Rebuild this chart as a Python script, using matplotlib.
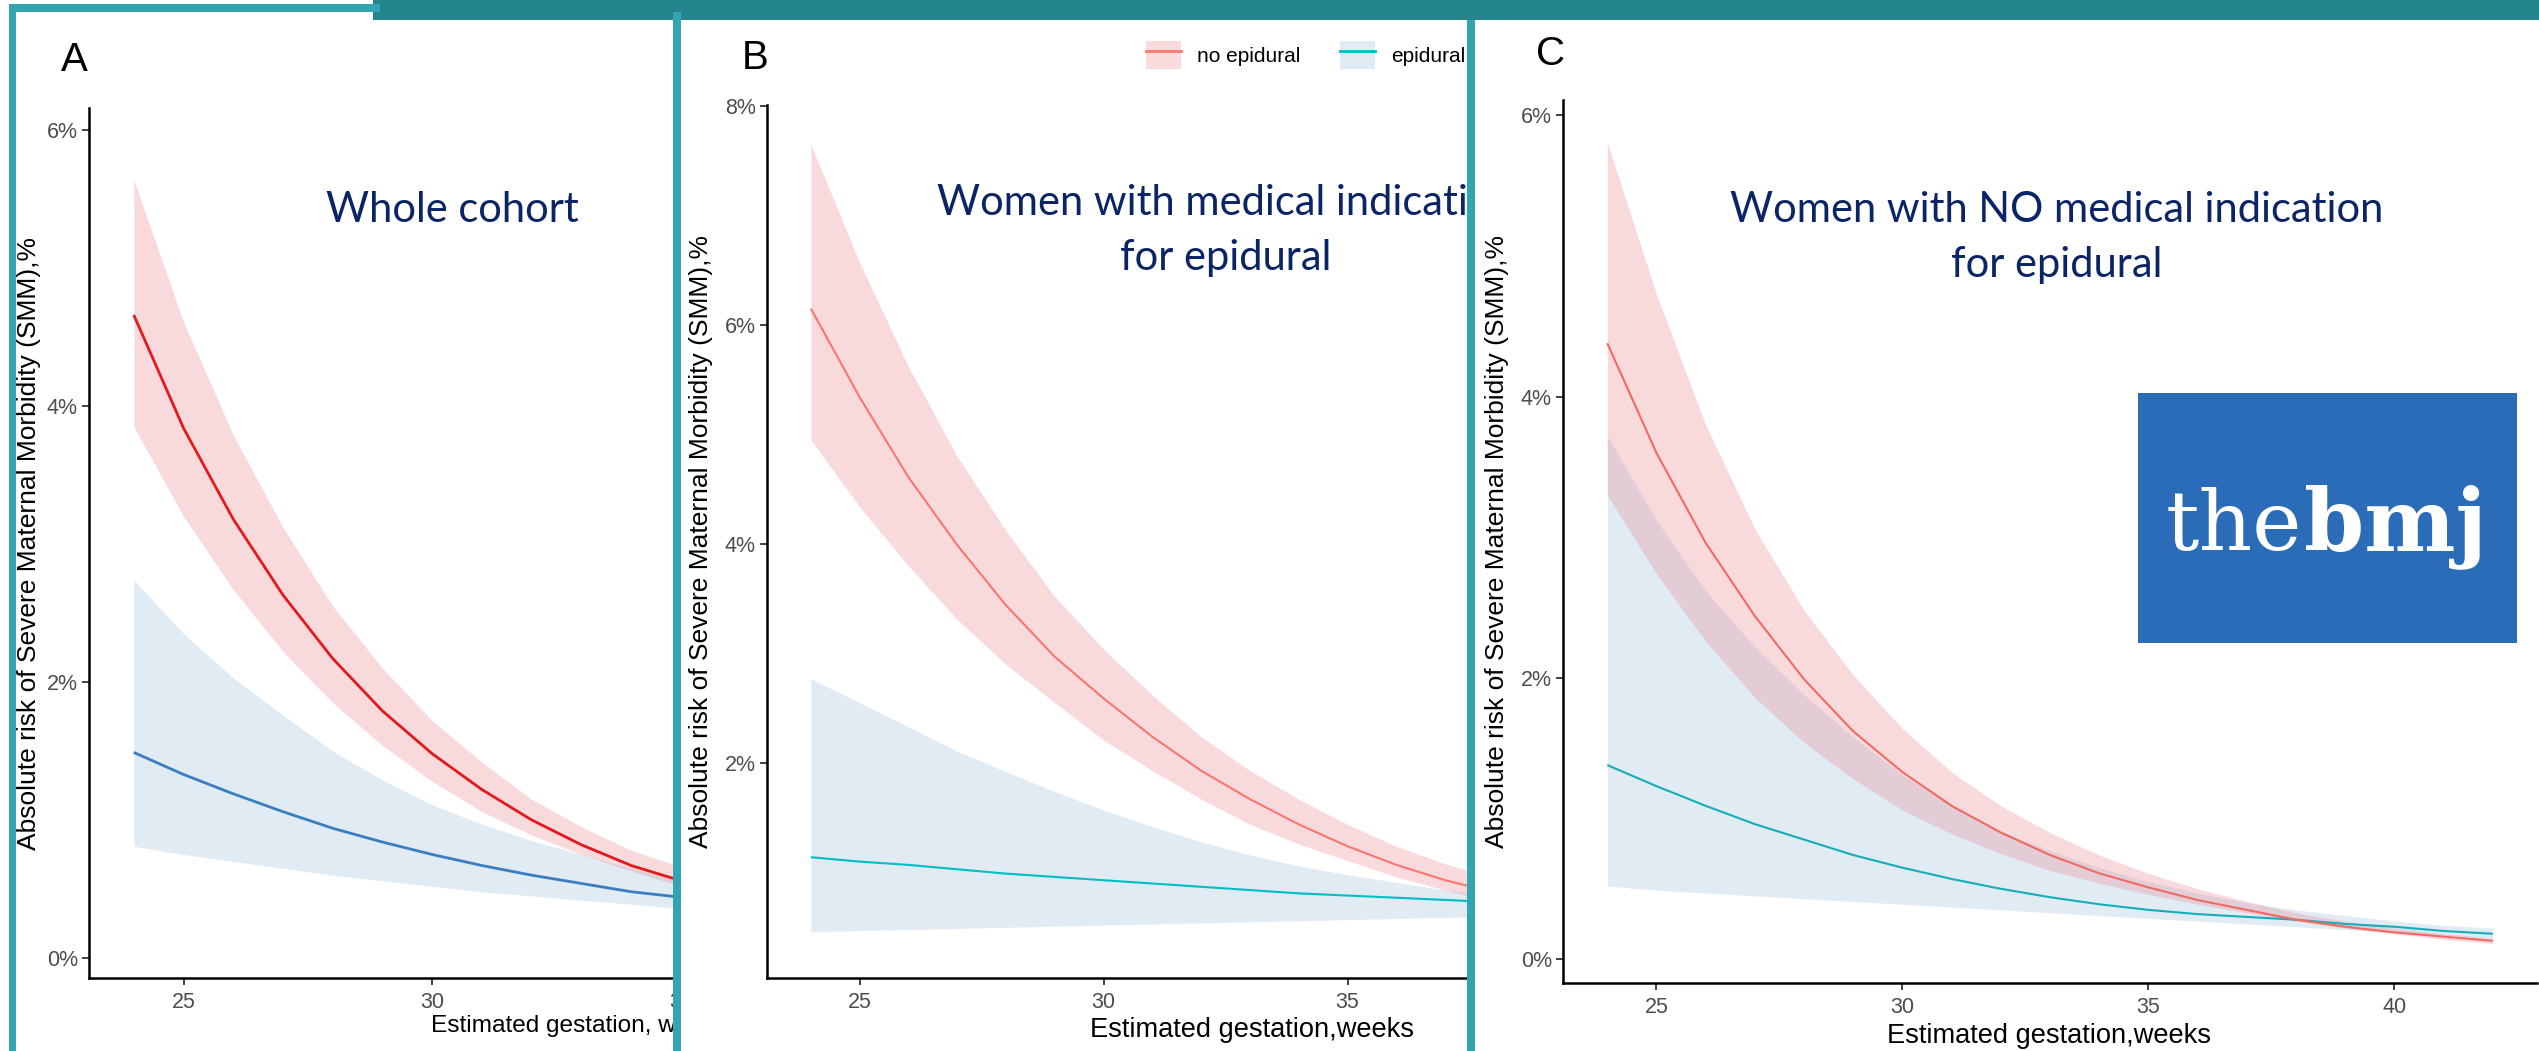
import matplotlib
matplotlib.use("Agg")
import matplotlib.pyplot as plt
from matplotlib.patches import Rectangle, Patch
from matplotlib.lines import Line2D
from matplotlib.legend_handler import HandlerTuple
from matplotlib.ticker import FixedLocator, FuncFormatter

# ---------------- data (absolute risk of SMM, %) ----------------
weeks_A = [24, 25, 26, 27, 28, 29, 30, 31, 32, 33, 34, 35]
A_no_fit = [4.66, 3.84, 3.18, 2.63, 2.17, 1.79, 1.48, 1.22, 1.00, 0.82, 0.67, 0.56]
A_no_lo = [3.85, 3.20, 2.67, 2.22, 1.85, 1.54, 1.28, 1.06, 0.89, 0.75, 0.63, 0.52]
A_no_hi = [5.64, 4.61, 3.79, 3.12, 2.55, 2.10, 1.72, 1.42, 1.15, 0.95, 0.78, 0.66]
A_ep_fit = [1.49, 1.33, 1.19, 1.06, 0.94, 0.84, 0.75, 0.67, 0.60, 0.54, 0.48, 0.44]
A_ep_lo = [0.81, 0.75, 0.70, 0.65, 0.60, 0.56, 0.52, 0.48, 0.45, 0.42, 0.39, 0.36]
A_ep_hi = [2.74, 2.35, 2.03, 1.76, 1.50, 1.29, 1.11, 0.97, 0.85, 0.75, 0.65, 0.57]

weeks_B = [24, 25, 26, 27, 28, 29, 30, 31, 32, 33, 34, 35, 36, 37, 38]
B_no_fit = [6.15, 5.34, 4.61, 3.99, 3.44, 2.97, 2.59, 2.24, 1.93, 1.67, 1.44, 1.24, 1.07, 0.93, 0.82]
B_no_lo = [4.95, 4.34, 3.80, 3.31, 2.90, 2.55, 2.21, 1.93, 1.67, 1.44, 1.26, 1.11, 0.96, 0.84, 0.73]
B_no_hi = [7.65, 6.57, 5.62, 4.80, 4.12, 3.52, 3.04, 2.62, 2.24, 1.93, 1.67, 1.44, 1.24, 1.08, 0.95]
B_ep_fit = [1.14, 1.10, 1.07, 1.03, 0.99, 0.96, 0.93, 0.90, 0.87, 0.84, 0.81, 0.79, 0.77, 0.75, 0.73]
B_ep_lo = [0.46, 0.47, 0.48, 0.49, 0.50, 0.51, 0.52, 0.53, 0.54, 0.55, 0.56, 0.57, 0.58, 0.59, 0.60]
B_ep_hi = [2.77, 2.55, 2.33, 2.11, 1.92, 1.74, 1.57, 1.42, 1.28, 1.16, 1.06, 0.98, 0.91, 0.84, 0.79]

weeks_C = [24, 25, 26, 27, 28, 29, 30, 31, 32, 33, 34, 35, 36, 37, 38, 39, 40, 41, 42]
C_no_fit = [4.38, 3.60, 2.96, 2.44, 1.99, 1.62, 1.33, 1.09, 0.90, 0.74, 0.61, 0.51, 0.42, 0.35, 0.28, 0.23, 0.19, 0.16, 0.13]
C_no_lo = [3.30, 2.74, 2.26, 1.86, 1.54, 1.28, 1.06, 0.89, 0.75, 0.63, 0.54, 0.46, 0.39, 0.33, 0.27, 0.22, 0.18, 0.14, 0.11]
C_no_hi = [5.81, 4.73, 3.80, 3.06, 2.48, 2.02, 1.64, 1.33, 1.09, 0.90, 0.74, 0.61, 0.50, 0.41, 0.33, 0.27, 0.22, 0.18, 0.15]
C_ep_fit = [1.38, 1.23, 1.09, 0.96, 0.85, 0.74, 0.65, 0.57, 0.50, 0.44, 0.39, 0.35, 0.32, 0.30, 0.28, 0.25, 0.23, 0.20, 0.18]
C_ep_lo = [0.52, 0.49, 0.47, 0.45, 0.43, 0.41, 0.39, 0.37, 0.35, 0.33, 0.31, 0.29, 0.27, 0.25, 0.23, 0.21, 0.19, 0.17, 0.15]
C_ep_hi = [3.72, 3.12, 2.62, 2.22, 1.88, 1.58, 1.31, 1.09, 0.91, 0.77, 0.65, 0.55, 0.47, 0.40, 0.35, 0.31, 0.27, 0.24, 0.22]

x_ticks = [25, 30, 35, 40]
legend_labels = ["no epidural", "epidural"]
ylabel_text = "Absolute risk of Severe Maternal Morbidity (SMM),%"
titles = {"A": ["Whole cohort"],
          "B": ["Women with medical indication", "for epidural"],
          "C": ["Women with NO medical indication", "for epidural"]}

# ---------------- styling ----------------
W, H, DPI = 2539, 1051, 100
SANS = ["Liberation Sans", "DejaVu Sans"]
TITLE_FONT = ["Lato", "DejaVu Sans"]
NAVY = "#0B2466"
TEAL_BORDER = "#33A5B0"
TEAL_BAR = "#25858E"
PINK = (235/255, 135/255, 145/255)
PINK_A = 0.30
BLUE_BAND = "#E1EBF4"
TICK_GRAY = "#4D4D4D"

fig = plt.figure(figsize=(W / DPI, H / DPI), dpi=DPI)
fig.patch.set_facecolor("white")


def fx(px):
    return px / W


def fy(py):
    return 1 - py / H


def make_axes(left, top, right, bottom, z, xlim, ylim, yticks):
    ax = fig.add_axes([fx(left), fy(bottom), (right - left) / W, (bottom - top) / H], zorder=z)
    ax.set_facecolor("none")
    ax.set_xlim(*xlim)
    ax.set_ylim(*ylim)
    for s in ("top", "right"):
        ax.spines[s].set_visible(False)
    for s in ("left", "bottom"):
        ax.spines[s].set_linewidth(1.8)
        ax.spines[s].set_color("black")
        ax.spines[s].set_clip_on(False)
    ax.xaxis.set_major_locator(FixedLocator(x_ticks))
    ax.yaxis.set_major_locator(FixedLocator(yticks))
    ax.yaxis.set_major_formatter(FuncFormatter(lambda v, p: f"{int(round(v))}%"))
    ax.tick_params(direction="out", length=5, width=1.3, color="#333333",
                   labelcolor=TICK_GRAY, labelsize=15.5)
    ax.tick_params(axis="y", pad=3)
    ax.tick_params(axis="x", pad=5)
    for lab in ax.get_xticklabels() + ax.get_yticklabels():
        lab.set_family(SANS)
    return ax


def draw_panel(ax, wk, no_fit, no_lo, no_hi, ep_fit, ep_lo, ep_hi, c_no, c_ep, lw):
    ax.fill_between(wk, ep_lo, ep_hi, color=BLUE_BAND, lw=0, zorder=1)
    ax.fill_between(wk, no_lo, no_hi, color=PINK, alpha=PINK_A, lw=0, zorder=2)
    ax.plot(wk, ep_fit, color=c_ep, lw=lw, zorder=3, solid_capstyle="butt")
    ax.plot(wk, no_fit, color=c_no, lw=lw, zorder=4, solid_capstyle="butt")


def ftext(ax, x, y, s, **kw):
    kw.setdefault("family", SANS)
    return ax.text(fx(x), fy(y), s, transform=fig.transFigure, clip_on=False, **kw)


# ---------------- Panel A ----------------
axA = make_axes(89, 108, 1074, 978, 1, (23.1, 42.9), (-0.145, 6.16), [0, 2, 4, 6])
draw_panel(axA, weeks_A, A_no_fit, A_no_lo, A_no_hi, A_ep_fit, A_ep_lo, A_ep_hi,
           "#E3191C", "#3A7DC1", 2.0)
ftext(axA, 74, 71, "A", fontsize=29, ha="center", va="baseline", color="black")
ftext(axA, 452, 222, titles["A"][0], fontsize=30, ha="center", va="baseline",
      color=NAVY, family=TITLE_FONT)
ftext(axA, 29, 543, ylabel_text, fontsize=19, rotation=90, ha="center", va="center")
ftext(axA, 431, 1032, "Estimated gestation, weeks", fontsize=17.6, ha="left", va="baseline")

# cover for panel B
fig.patches.append(Rectangle((fx(677), 0), 1 - fx(677), 1, transform=fig.transFigure,
                             facecolor="white", edgecolor="none", zorder=2))

# ---------------- Panel B ----------------
axB = make_axes(767, 105, 1733, 978, 3, (23.1, 42.9), (0.037, 8.01), [2, 4, 6, 8])
draw_panel(axB, weeks_B, B_no_fit, B_no_lo, B_no_hi, B_ep_fit, B_ep_lo, B_ep_hi,
           "#F8766D", "#00BFC4", 1.5)
ftext(axB, 755, 69, "B", fontsize=29, ha="center", va="baseline", color="black")
ftext(axB, 1226, 215, titles["B"][0], fontsize=30, ha="center", va="baseline",
      color=NAVY, family=TITLE_FONT)
ftext(axB, 1226, 270, titles["B"][1], fontsize=30, ha="center", va="baseline",
      color=NAVY, family=TITLE_FONT)
ftext(axB, 701, 541, ylabel_text, fontsize=19, rotation=90, ha="center", va="center")
ftext(axB, 1090, 1037, "Estimated gestation,weeks", fontsize=19.6, ha="left", va="baseline")
handles = [(Patch(facecolor="#F9DBDE", edgecolor="none"), Line2D([], [], color="#F8766D", lw=2)),
           (Patch(facecolor=BLUE_BAND, edgecolor="none"), Line2D([], [], color="#00BFC4", lw=2))]
leg = axB.legend(handles, legend_labels, handler_map={tuple: HandlerTuple(ndivide=1)},
                 loc="center left", bbox_to_anchor=(fx(1146), fy(55)),
                 bbox_transform=fig.transFigure, ncol=2, frameon=False,
                 borderpad=0, borderaxespad=0,
                 handlelength=1.68, handleheight=1.73, handletextpad=0.77,
                 columnspacing=1.9, prop={"family": SANS, "size": 15})

# cover for panel C
fig.patches.append(Rectangle((fx(1471), 0), 1 - fx(1471), 1, transform=fig.transFigure,
                             facecolor="white", edgecolor="none", zorder=4))

# ---------------- Panel C ----------------
axC = make_axes(1563, 100, 2537, 983, 5, (23.1, 42.9), (-0.17, 6.11), [0, 2, 4, 6])
draw_panel(axC, weeks_C, C_no_fit, C_no_lo, C_no_hi, C_ep_fit, C_ep_lo, C_ep_hi,
           "#F06A62", "#14AEB8", 1.5)
ftext(axC, 1551, 65, "C", fontsize=29, ha="center", va="baseline", color="black")
ftext(axC, 2057, 222, titles["C"][0], fontsize=30, ha="center", va="baseline",
      color=NAVY, family=TITLE_FONT)
ftext(axC, 2057, 277, titles["C"][1], fontsize=30, ha="center", va="baseline",
      color=NAVY, family=TITLE_FONT)
ftext(axC, 1497, 541, ylabel_text, fontsize=19, rotation=90, ha="center", va="center")
ftext(axC, 1887, 1043, "Estimated gestation,weeks", fontsize=19.6, ha="left", va="baseline")

# ---------------- theBMJ logo ----------------
fig.patches.append(Rectangle((fx(2138), fy(643)), (2517 - 2138) / W, (643 - 393) / H,
                             transform=fig.transFigure, facecolor="#2B6CB8",
                             edgecolor="none", zorder=8))
fig.text(fx(2302), fy(550), "the", fontsize=60, color="white", ha="right", va="baseline",
         family=["DejaVu Serif"], zorder=9)
fig.text(fx(2304), fy(550), "bmj", fontsize=62, color="white", ha="left", va="baseline",
         family=["DejaVu Serif"], fontweight="bold", zorder=9)

# ---------------- frames ----------------
def frect(x0, y0, x1, y1, color):
    fig.patches.append(Rectangle((fx(x0), fy(y1)), (x1 - x0) / W, (y1 - y0) / H,
                                 transform=fig.transFigure, facecolor=color,
                                 edgecolor="none", zorder=10))

frect(373, 0, W, 20, TEAL_BAR)
frect(9, 4, 380, 12, TEAL_BORDER)
frect(9, 4, 16, H, TEAL_BORDER)
frect(673, 12, 681, H, TEAL_BORDER)
frect(1467, 20, 1475, H, TEAL_BORDER)

fig.savefig("out.png", dpi=DPI, facecolor="white")
